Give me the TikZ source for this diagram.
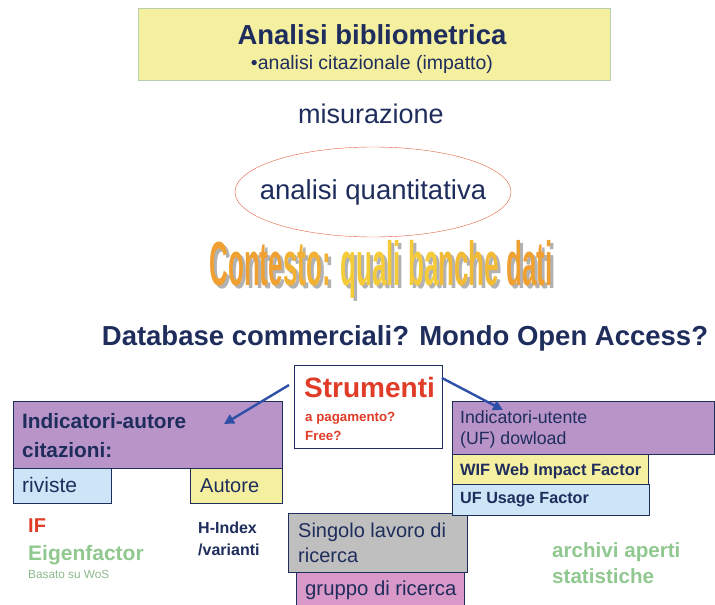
\documentclass[tikz,border=0pt]{standalone}
\usepackage{fontspec}
\setmainfont{Liberation Sans}
\usetikzlibrary{arrows.meta,shapes.geometric}
\definecolor{navy}{HTML}{1F2D5C}
\definecolor{giallo}{HTML}{F5F0A0}
\definecolor{viola}{HTML}{B894C8}
\definecolor{celeste}{HTML}{CCE6F8}
\definecolor{grigio}{HTML}{BFBFBF}
\definecolor{rosa}{HTML}{D898C8}
\definecolor{rosso}{HTML}{E03C28}
\definecolor{verde}{HTML}{90C890}
\definecolor{blu}{HTML}{3050A8}
\definecolor{arancio}{HTML}{F0A030}
\definecolor{oro}{HTML}{F5CC38}
\definecolor{bordotit}{HTML}{B8D0B0}
\definecolor{bordoell}{HTML}{E06040}
\newcommand{\fs}[1]{\fontsize{#1}{1.2\dimexpr#1pt\relax}\selectfont}
\begin{document}
\begin{tikzpicture}[x=1pt,y=-1pt]
\tikzstyle{scatola} = [draw=navy, line width=0.8pt, anchor=north west, inner sep=0pt] % box style
\tikzstyle{riga} = [anchor=base west, inner sep=0pt, text=navy] % one line of text
\tikzstyle{freccia} = [draw=blu, line width=2.4pt, -{Triangle[length=10pt,width=10pt]}] % arrow style
\useasboundingbox (0,0) rectangle (715,605);
% titolo
\node[scatola, draw=bordotit, fill=giallo, minimum width=472pt, minimum height=72pt] (titolo) at (138,8) {};
\node[anchor=base, inner sep=0pt, text=navy, font=\fs{27.5}\bfseries] (tit) at (372,44) {Analisi bibliometrica};
\node[anchor=base, inner sep=0pt, text=navy, font=\fs{19.5}] (sottotit) at (372,69) {\textbullet analisi citazionale (impatto)};
\node[anchor=base, inner sep=0pt, text=navy, font=\fs{27}] (mis) at (371,123) {misurazione};
\node[draw=bordoell, ellipse, inner sep=0pt, minimum width=276pt, minimum height=90pt] (quant) at (373,192) {};
\node[inner sep=0pt, text=navy, font=\fs{27.5}] (quanttxt) at (quant.center) {analisi quantitativa};
% contesto (wordart)
\node[text=gray!60, inner sep=0pt] (ombra) at (384,272) {\resizebox*{343pt}{58pt}{\bfseries Contesto: quali banche dati}};
\node[inner sep=0pt] (contesto) at (381,269) {\resizebox*{343pt}{58pt}{\bfseries\textcolor{arancio}{Conte}\textcolor{arancio!60!oro}{sto:} \textcolor{oro}{quali ba}\textcolor{oro!60!arancio}{nche} \textcolor{arancio}{dati}}};
\node[anchor=base, inner sep=0pt, text=navy, font=\fs{27.5}\bfseries] (db) at (405,345) {Database commerciali? Mondo Open Access?};
% strumenti
\node[scatola, fill=white, minimum width=148pt, minimum height=83pt] (strum) at (294,365) {};
\node[riga, text=rosso, font=\fs{28}\bfseries] (strumtxt) at (304,397) {Strumenti};
\node[riga, text=rosso, font=\fs{13.3}\bfseries] (pagam) at (305,421) {a pagamento?};
\node[riga, text=rosso, font=\fs{13.3}\bfseries] (free) at (305,440) {Free?};
% indicatori autore
\node[scatola, fill=viola, minimum width=269pt, minimum height=67pt] (autore) at (13,401) {};
\node[riga, font=\fs{20.8}\bfseries] (aut1) at (22,428) {Indicatori-autore};
\node[riga, font=\fs{20.8}\bfseries] (aut2) at (22,457) {citazioni:};
\node[scatola, fill=celeste, minimum width=98pt, minimum height=35pt] (riviste) at (13,468) {};
\node[riga, font=\fs{21}] (rivistetxt) at (22,492) {riviste};
\node[scatola, fill=giallo, minimum width=92pt, minimum height=35pt] (aut) at (190,468) {};
\node[riga, font=\fs{20}] (auttxt) at (200,492) {Autore};
\node[riga, text=rosso, font=\fs{20}\bfseries] (if) at (28,532) {IF};
\node[riga, text=verde, font=\fs{21}\bfseries] (eigen) at (28,560) {Eigenfactor};
\node[riga, text=verde!80!gray, font=\fs{11.8}] (wos) at (28,578) {Basato su WoS};
\node[riga, font=\fs{16}\bfseries] (hindex) at (198,533) {H-Index};
\node[riga, font=\fs{16}\bfseries] (varianti) at (198,555) {/varianti};
% lavoro di ricerca
\node[scatola, fill=grigio, minimum width=179pt, minimum height=59pt] (singolo) at (288,513) {};
\node[riga, font=\fs{20}] (sing1) at (298,537) {Singolo lavoro di};
\node[riga, font=\fs{20}] (sing2) at (298,562) {ricerca};
\node[scatola, fill=rosa, minimum width=168pt, minimum height=40pt] (gruppo) at (296,572) {};
\node[riga, font=\fs{20.3}] (gruppotxt) at (305,595) {gruppo di ricerca};
% indicatori utente
\node[scatola, fill=viola, minimum width=262pt, minimum height=53pt] (utente) at (452,401) {};
\node[riga, font=\fs{17.7}] (ut1) at (460,423) {Indicatori-utente};
\node[riga, font=\fs{17.7}] (ut2) at (460,444) {(UF) dowload};
\node[scatola, fill=giallo, minimum width=196pt, minimum height=30pt] (wif) at (452,454) {};
\node[riga, font=\fs{16.4}\bfseries] (wiftxt) at (460,475) {WIF Web Impact Factor};
\node[scatola, fill=celeste, minimum width=197pt, minimum height=31pt] (uf) at (452,484) {};
\node[riga, font=\fs{16.2}\bfseries] (uftxt) at (460,503) {UF Usage Factor};
\node[riga, text=verde, font=\fs{20.6}\bfseries] (arch1) at (552,557) {archivi aperti};
\node[riga, text=verde, font=\fs{20.6}\bfseries] (arch2) at (552,583) {statistiche};
% frecce
\coordinate (pa) at (224,424);
\coordinate (pb) at (503,410);
\draw[freccia] (strum.north west) ++(-5,20) -- (pa);
\draw[freccia] (strum.east) ++(-1,-29) -- (pb);
\end{tikzpicture}
\end{document}
